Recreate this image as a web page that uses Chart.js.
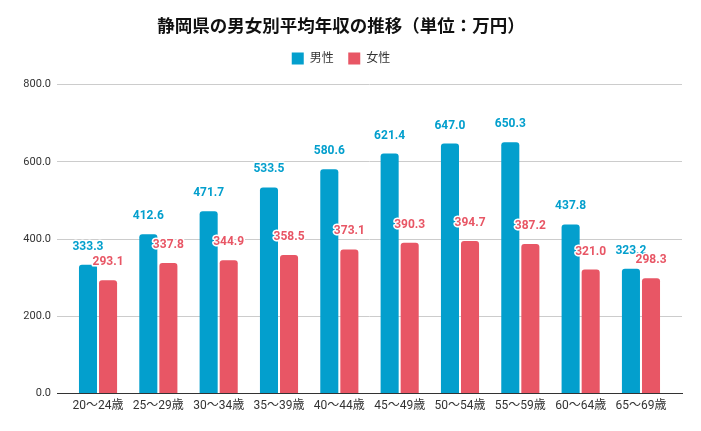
<!DOCTYPE html>
<html>
<head>
<meta charset="utf-8">
<script src="https://cdn.jsdelivr.net/npm/chart.js@4/dist/chart.umd.min.js"></script>
<style>
  html, body { margin: 0; padding: 0; background: #fff; }
  #wrap { width: 701px; height: 431px; }
</style>
</head>
<body>
<div id="wrap"><canvas id="salaryChart"></canvas></div>
<script>
/* ── Data ── */
var ageGroups = ['20〜24歳', '25〜29歳', '30〜34歳', '35〜39歳', '40〜44歳', '45〜49歳', '50〜54歳', '55〜59歳', '60〜64歳', '65〜69歳'];
var maleIncome = [333.3, 412.6, 471.7, 533.5, 580.6, 621.4, 647.0, 650.3, 437.8, 323.2];
var femaleIncome = [293.1, 337.8, 344.9, 358.5, 373.1, 390.3, 394.7, 387.2, 321.0, 298.3];
var yTicks = [0, 200, 400, 600, 800];

var FONT = "Roboto, 'Noto Sans CJK JP', sans-serif";
var MALE_COLOR = '#039fcd';
var FEMALE_COLOR = '#e85665';

// Value labels above each bar, white outline like the original
var valueLabels = {
    id: 'valueLabels',
    afterDatasetsDraw: function (chart) {
        var ctx = chart.ctx;
        ctx.save();
        ctx.font = 'bold 12px ' + FONT;
        ctx.textAlign = 'center';
        ctx.textBaseline = 'middle';
        ctx.lineJoin = 'round';
        chart.data.datasets.forEach(function (ds, i) {
            var meta = chart.getDatasetMeta(i);
            meta.data.forEach(function (bar, j) {
                var txt = ds.data[j].toFixed(1);
                var y = bar.y - 18;
                ctx.lineWidth = 3;
                ctx.strokeStyle = '#fff';
                ctx.strokeText(txt, bar.x, y);
                ctx.fillStyle = ds.backgroundColor;
                ctx.fillText(txt, bar.x, y);
            });
        });
        ctx.restore();
    }
};

// Extra gap between the legend and the plot area
var legendGap = {
    id: 'legendGap',
    beforeLayout: function (chart) {
        var lg = chart.legend;
        if (!lg || lg._gapPatched) return;
        var fit = lg.fit;
        lg.fit = function () {
            fit.apply(this, arguments);
            this.height += 10;
        };
        lg._gapPatched = true;
    }
};

new Chart(document.getElementById('salaryChart').getContext('2d'), {
    type: 'bar',
    data: {
        labels: ageGroups,
        datasets: [
            { label: '男性', data: maleIncome, backgroundColor: MALE_COLOR, borderRadius: 3, borderSkipped: 'bottom', categoryPercentage: 0.665, barPercentage: 0.9 },
            { label: '女性', data: femaleIncome, backgroundColor: FEMALE_COLOR, borderRadius: 3, borderSkipped: 'bottom', categoryPercentage: 0.665, barPercentage: 0.9 }
        ]
    },
    options: {
        responsive: true,
        maintainAspectRatio: false,
        animation: false,
        layout: { padding: { left: 0, right: 19, top: 0, bottom: 13 } },
        plugins: {
            title: {
                display: true,
                text: '静岡県の男女別平均年収の推移（単位：万円）',
                color: '#111',
                font: { family: FONT, size: 17.5, weight: 'bold' },
                padding: { top: 17, bottom: 0 }
            },
            legend: {
                labels: {
                    color: '#333',
                    font: { family: FONT, size: 12 },
                    boxWidth: 12,
                    boxHeight: 12,
                    padding: 14.5
                }
            },
            tooltip: { enabled: false }
        },
        scales: {
            x: {
                // widen the side margins so the grid runs past the outer bars
                afterBuildTicks: function (scale) {
                    scale._startValue -= 0.18;
                    scale._valueRange += 0.36;
                },
                grid: { display: false, drawTicks: false },
                border: { display: true, color: '#333', width: 1 },
                ticks: { color: '#333', font: { family: FONT, size: 12 }, padding: 5, maxRotation: 0 }
            },
            y: {
                min: 0,
                max: 800,
                afterFit: function (scale) { scale.width = 57; },
                afterBuildTicks: function (scale) {
                    scale.ticks = yTicks.map(function (v) { return { value: v }; });
                },
                grid: { color: '#cccccc', drawTicks: false },
                border: { display: false },
                ticks: {
                    color: '#333',
                    font: { family: FONT, size: 11 },
                    padding: 6,
                    callback: function (v) { return Number(v).toFixed(1); }
                }
            }
        }
    },
    plugins: [valueLabels, legendGap]
});
</script>
</body>
</html>
